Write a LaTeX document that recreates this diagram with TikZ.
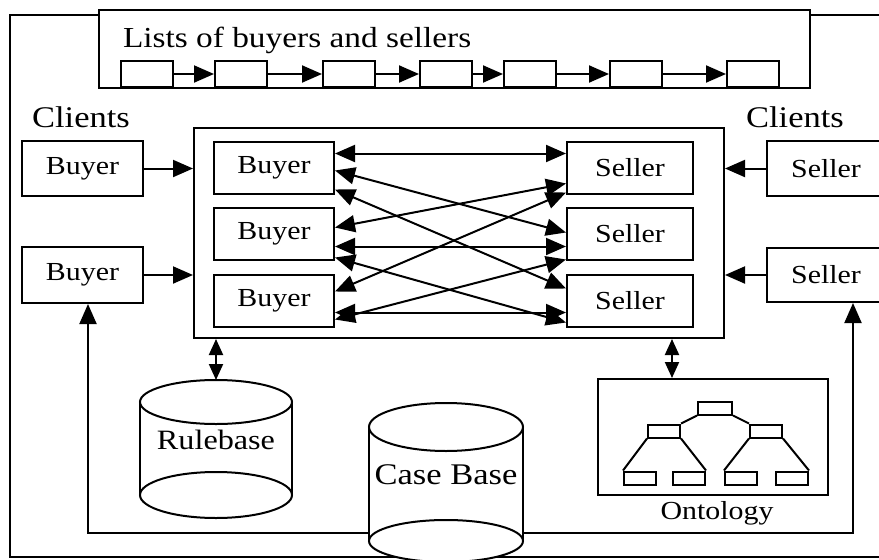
\documentclass[tikz,border=0pt]{standalone}
\usepackage{fontspec}
\setmainfont{Liberation Serif}[FakeStretch=1.15]
\usetikzlibrary{arrows.meta, calc, positioning}

\begin{document}
\begin{tikzpicture}[x=1pt, y=-1pt, line width=2pt,
    >={Triangle[length=20pt, width=17pt]},
    box/.style={draw, rectangle, inner sep=0pt, minimum height=52pt, font=\fontsize{26}{30}\selectfont},
    frame/.style={draw, rectangle, inner sep=0pt},
    listbox/.style={draw, rectangle, inner sep=0pt, minimum width=52pt, minimum height=26pt},
    treebox/.style={draw, rectangle, inner sep=0pt, minimum width=32pt, minimum height=13pt},
    shortlink/.style={{Triangle[length=16pt, width=14pt]}-{Triangle[length=16pt, width=14pt]}},
    lbl/.style={inner sep=0pt, font=\fontsize{30}{34}\selectfont}]

  \useasboundingbox (0,0) rectangle (879,560);
  \clip (0,0) rectangle (879,560);

  % outer frame
  \draw[line width=1.4pt] (99,15) -- (10,15) -- (10,557) -- (879,557);
  \draw[line width=1.4pt] (810,15) -- (879,15);

  % list of buyers and sellers
  \node[frame, minimum width=711pt, minimum height=78pt] (lists) at (454.5,49) {};
  \node[lbl, font=\fontsize{29}{33}\selectfont, anchor=base west] (liststitle) at (122,47) {Lists of buyers and sellers};
  \foreach \x [count=\i] in {147,241,349,446,530,636,753}
    \node[listbox] (l\i) at (\x,74) {};
  \foreach \a/\b in {1/2,2/3,3/4,4/5,5/6,6/7}
    \draw[->] (l\a.east) -- (l\b.west);

  % clients
  \node[lbl] (clientsL) at (81,117) {Clients};
  \node[lbl] (clientsR) at (795,117) {Clients};
  \node[box, minimum width=121pt, minimum height=55pt] (cb1) at (82.5,168.5) {Buyer};
  \node[box, minimum width=121pt, minimum height=56pt] (cb2) at (82.5,275) {Buyer};
  \node[box, minimum width=118pt, minimum height=55pt] (cs1) at (826,168.5) {Seller};
  \node[box, minimum width=118pt, minimum height=54pt] (cs2) at (826,275) {Seller};

  % server
  \node[frame, minimum width=530pt, minimum height=210pt] (server) at (459,233) {};
  \node[box, minimum width=120pt] (b1) at (274,167.5) {Buyer};
  \node[box, minimum width=120pt] (b2) at (274,233.5) {Buyer};
  \node[box, minimum width=120pt] (b3) at (274,300.5) {Buyer};
  \node[box, minimum width=126pt] (s1) at (630,167.5) {Seller};
  \node[box, minimum width=126pt] (s2) at (630,233.5) {Seller};
  \node[box, minimum width=126pt] (s3) at (630,300.5) {Seller};

  \draw[->] (cb1.east) -- (cb1.east -| server.west);
  \draw[->] (cb2.east) -- (cb2.east -| server.west);
  \draw[->] (cs1.west) -- (cs1.west -| server.east);
  \draw[->] (cs2.west) -- (cs2.west -| server.east);

  % buyers <-> sellers
  \draw[<->] ($(b1.east)+(0,-14)$) -- ($(s1.west)+(0,-14)$);
  \draw[<->] ($(b1.east)+(0,3)$) -- ($(s2.west)+(0,-1)$);
  \draw[<->] ($(b1.east)+(0,22)$) -- ($(s3.west)+(0,-12)$);
  \draw[<->] ($(s1.west)+(0,16)$) -- ($(b2.east)+(0,-6)$);
  \draw[<->] ($(s1.west)+(0,25)$) -- ($(b3.east)+(0,-9)$);
  \draw[<->] ($(b2.east)+(0,13)$) -- ($(s2.west)+(0,13)$);
  \draw[<->] ($(b2.east)+(0,24)$) -- ($(s3.west)+(0,22)$);
  \draw[<->] ($(s2.west)+(0,26)$) -- ($(b3.east)+(0,19)$);
  \draw[<->] ($(b3.east)+(0,12)$) -- ($(s3.west)+(0,12)$);

  % loop back to the clients
  \coordinate (loopL) at (88,533);
  \coordinate (loopR) at (853,533);
  \draw[<->] (loopL |- cb2.south) -- (loopL) -- (loopR) -- (loopR |- cs2.south);

  % rulebase
  \draw (140,402) -- (140,495);
  \draw (292,402) -- (292,495);
  \draw[fill=white] (216,495) ellipse [x radius=76pt, y radius=23pt];
  \draw[fill=white] (216,402) ellipse [x radius=76pt, y radius=22pt];
  \node[lbl, font=\fontsize{28}{32}\selectfont] (rulebase) at (216,440) {Rulebase};
  \coordinate (rbtop) at (216,380);
  \draw[shortlink] (rbtop |- server.south) -- (rbtop);

  % case base
  \fill[white] (369,427) rectangle (523,541);
  \draw (369,427) -- (369,541);
  \draw (523,427) -- (523,541);
  \draw[fill=white] (446,541) ellipse [x radius=77pt, y radius=21pt];
  \draw[fill=white] (446,427) ellipse [x radius=77pt, y radius=24pt];
  \node[lbl, font=\fontsize{30}{34}\selectfont] (casebase) at (446,475) {Case Base};

  % ontology
  \node[frame, minimum width=230pt, minimum height=116pt] (onto) at (713,437) {};
  \node[lbl, font=\fontsize{26}{30}\selectfont] (ontolabel) at (717,513) {Ontology};
  \coordinate (ontop) at ($(onto.north west)+(75,0)$);
  \draw[shortlink] (ontop |- server.south) -- (ontop);

  \node[treebox, minimum width=34pt] (root) at (715,408) {};
  \node[treebox] (midL) at (664,431) {};
  \node[treebox] (midR) at (766,431) {};
  \node[treebox] (leaf1) at (640,478) {};
  \node[treebox] (leaf2) at (689,478) {};
  \node[treebox] (leaf3) at (741,478) {};
  \node[treebox] (leaf4) at (792,478) {};
  \draw (root.south west) -- (midL.north east);
  \draw (root.south east) -- (midR.north west);
  \draw (midL.south west) -- (leaf1.north west);
  \draw (midL.south east) -- (leaf2.north east);
  \draw (midR.south west) -- (leaf3.north west);
  \draw (midR.south east) -- (leaf4.north east);

\end{tikzpicture}
\end{document}
